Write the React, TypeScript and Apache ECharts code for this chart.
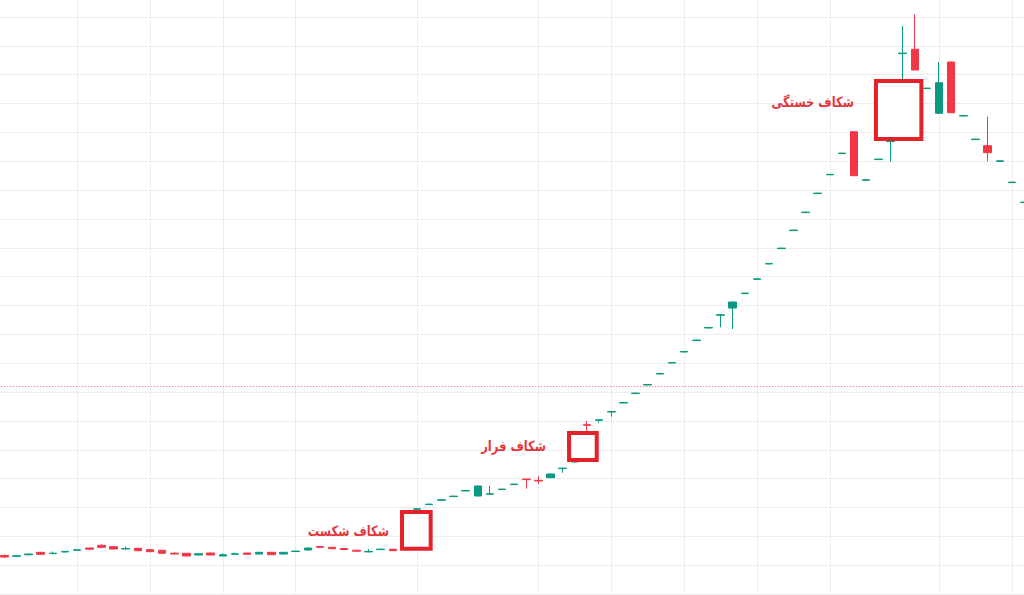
import React, { useEffect, useRef } from "react";
import * as echarts from "echarts";

// ---- data ----
const categories: string[] = [
  "1","2","3","4","5","6","7","8","9","10","11","12","13","14","15","16","17","18","19","20",
  "21","22","23","24","25","26","27","28","29","30","31","32","33","34","35","36","37","38","39","40",
  "41","42","43","44","45","46","47","48","49","50","51","52","53","54","55","56","57","58","59","60",
  "61","62","63","64","65","66","67","68","69","70","71","72","73","74","75","76","77","78","79","80",
  "81","82","83","84","85",
];

const openValues: number[] = [
  13.35, 13.07, 13.59, 14.45, 14.0, 14.56, 15.15, 15.94, 16.88, 16.4,
  15.6, 15.84, 15.36, 15.15, 14.14, 14.11, 13.52, 14.21, 13.17, 13.76,
  14.21, 13.86, 14.45, 13.86, 14.73, 15.25, 16.43, 16.19, 15.77, 15.18,
  14.59, 15.39, 15.49, 15.77, 29.36, 30.99, 32.48, 33.76, 35.7, 33.97,
  34.59, 36.19, 37.92, 39.86, 39.38, 40.31, 43.47, 45.75, 58.68, 60.21,
  63.09, 66.2, 69.46, 72.44, 76.26, 80.07, 83.88, 87.83, 92.2, 96.6,
  99.13, 104.12, 109.08, 114.38, 119.72, 125.96, 132.2, 138.79, 145.3, 152.65,
  160.24, 143.4, 150.57, 156.81, 187.31, 188.8, 175.18, 166.62, 184.4, 165.68,
  157.5, 155.39, 149.98, 142.6, 135.67,
];

const closeValues: number[] = [
  12.82, 13.24, 13.86, 13.76, 14.14, 14.77, 15.32, 15.53, 16.19, 15.6,
  15.77, 15.01, 14.66, 14.11, 13.86, 13.17, 13.97, 13.52, 13.62, 13.93,
  13.76, 14.45, 13.62, 14.45, 14.87, 15.94, 16.19, 15.7, 15.42, 14.84,
  14.73, 15.56, 15.01, 15.6, 29.53, 31.16, 32.65, 33.93, 35.88, 37.44,
  34.73, 36.36, 38.09, 39.65, 39.17, 41.59, 43.64, 45.93, 58.47, 60.38,
  63.26, 66.38, 69.64, 72.62, 76.43, 80.24, 84.06, 88.01, 92.37, 96.78,
  101.21, 104.3, 109.25, 114.56, 119.89, 126.13, 132.37, 138.96, 145.47, 152.82,
  144.99, 143.57, 150.74, 156.95, 187.49, 181.63, 175.35, 177.23, 166.83, 165.86,
  157.68, 152.96, 150.15, 142.77, 135.84,
];

const lowValues: number[] = [
  12.48, 12.89, 13.45, 13.66, 13.93, 14.45, 15.08, 15.42, 16.08, 15.5,
  15.53, 14.9, 14.56, 14.0, 13.76, 13.07, 13.38, 13.41, 13.07, 13.69,
  13.66, 13.76, 13.52, 13.76, 14.66, 15.15, 16.08, 15.6, 15.32, 14.73,
  14.49, 15.32, 14.9, 15.42, 29.26, 30.92, 32.41, 33.69, 35.63, 33.86,
  34.52, 36.12, 37.85, 36.5, 38.13, 40.21, 42.05, 45.58, 56.6, 59.38,
  61.46, 66.13, 69.39, 72.37, 76.19, 80.0, 83.81, 87.77, 92.13, 92.44,
  91.85, 104.05, 109.01, 114.31, 119.65, 125.89, 132.13, 138.72, 145.23, 152.58,
  144.89, 143.33, 150.5, 149.84, 177.82, 181.53, 175.11, 166.51, 166.73, 165.61,
  157.43, 149.98, 149.91, 142.53, 135.6,
];

const highValues: number[] = [
  13.69, 13.59, 14.04, 14.56, 14.73, 14.9, 15.42, 16.08, 17.23, 16.5,
  16.53, 15.94, 15.46, 15.25, 14.42, 14.21, 14.21, 14.32, 14.11, 14.35,
  14.32, 14.56, 14.56, 14.56, 14.97, 16.08, 16.53, 16.29, 15.88, 15.29,
  15.6, 15.67, 15.6, 15.94, 29.64, 31.26, 32.75, 34.04, 35.98, 37.54,
  37.54, 36.47, 38.2, 39.93, 40.9, 41.7, 43.74, 46.1, 59.97, 60.49,
  63.36, 66.48, 69.74, 72.72, 76.53, 80.35, 84.16, 88.11, 92.48, 96.88,
  101.32, 104.4, 109.36, 114.66, 120.0, 126.24, 132.47, 139.06, 145.58, 152.93,
  160.35, 143.68, 150.85, 157.02, 196.88, 200.93, 175.46, 184.4, 184.51, 165.96,
  157.78, 165.44, 150.26, 142.87, 135.95,
];

// candles on which the vertical time grid lines fall
const timeGridIndices: number[] = [6, 12, 18, 24, 34, 44, 50, 56, 62, 68, 77, 83];
const lastPriceLevel = 72.1;

// gaps: start / end (in candle units), low / high price
const gapStart: number[] = [32.76, 46.52, 71.8];
const gapEnd: number[] = [35.12, 48.8, 75.54];
const gapLow: number[] = [15.71, 46.47, 157.7];
const gapHigh: number[] = [28.44, 55.83, 177.8];
const gapLabels: string[] = ["شکاف شکست", "شکاف فرار", "شکاف خستگی"];

// label layout (px)
const labelGap = [11, 21, 20];
const labelDy = [1, -0.5, -8];

const UP = "#089981";
const DOWN = "#f23645";
const GRID = "#ededed";

// the canvas is larger than the window and shifted, so the plot can bleed past the edges
const OFF_X = 20;
const OFF_Y = 40;

export default function App() {
  const ref = useRef<HTMLDivElement>(null);

  useEffect(() => {
    if (!ref.current) return;
    const chart = echarts.init(ref.current, undefined, { renderer: "svg" });

    const candleData = categories.map((_, i) => [
      openValues[i],
      closeValues[i],
      lowValues[i],
      highValues[i],
    ]);
    const gapData = gapStart.map((s, i) => [s, gapEnd[i], gapLow[i], gapHigh[i]]);

    chart.setOption({
      animation: false,
      backgroundColor: "#ffffff",
      grid: { left: OFF_X - 1.77, top: OFF_Y - 11.85, width: 1031.9, height: 605.85 },
      xAxis: {
        type: "category",
        data: categories,
        boundaryGap: true,
        axisLine: { show: false },
        axisTick: { show: false },
        axisLabel: { show: false },
        splitLine: { show: false },
      },
      yAxis: {
        type: "value",
        min: 0,
        max: 210,
        interval: 10,
        axisLine: { show: false },
        axisTick: { show: false },
        axisLabel: { show: false },
        splitLine: { show: true, lineStyle: { color: GRID, width: 1 } },
      },
      series: [
        {
          type: "line",
          data: [],
          z: 1,
          silent: true,
          markLine: {
            silent: true,
            z: 1,
            symbol: ["none", "none"],
            label: { show: false },
            animation: false,
            lineStyle: { color: GRID, width: 1, type: "solid" },
            data: [
              ...timeGridIndices.map((i) => ({ xAxis: i })),
              {
                yAxis: lastPriceLevel,
                lineStyle: { color: DOWN, width: 1, type: [1, 2], opacity: 0.8 },
              },
            ],
          },
        },
        {
          type: "candlestick",
          data: candleData,
          barWidth: 8,
          z: 3,
          itemStyle: {
            color: UP,
            color0: DOWN,
            borderColor: UP,
            borderColor0: DOWN,
            borderWidth: 1,
          },
        },
        {
          type: "custom",
          data: gapData,
          z: 5,
          silent: true,
          encode: { x: [0, 1], y: [2, 3] },
          renderItem: (params: any, api: any) => {
            const s = api.value(0);
            const e = api.value(1);
            const lo = api.value(2);
            const hi = api.value(3);
            const band = api.size([1, 0])[0];
            const xAt = (f: number) => {
              const b = Math.floor(f);
              return api.coord([b, 0])[0] + (f - b) * band;
            };
            const left = xAt(s);
            const right = xAt(e);
            const top = api.coord([0, hi])[1];
            const bottom = api.coord([0, lo])[1];
            const k = params.dataIndex;
            return {
              type: "group",
              children: [
                {
                  type: "rect",
                  shape: { x: left, y: top, width: right - left, height: bottom - top },
                  style: { fill: "#ffffff", stroke: "#e52229", lineWidth: 4 },
                },
                {
                  type: "text",
                  x: left - 2 - labelGap[k],
                  y: (top + bottom) / 2 + labelDy[k],
                  scaleX: 0.82,
                  style: {
                    text: gapLabels[k],
                    x: 0,
                    y: 0,
                    align: "right",
                    verticalAlign: "middle",
                    fill: "#e4363c",
                    font: 'bold 14px "DejaVu Sans"',
                  },
                },
              ],
            };
          },
        },
      ],
    });

    return () => chart.dispose();
  }, []);

  return (
    <div
      ref={ref}
      style={{
        position: "fixed",
        left: -OFF_X,
        top: -OFF_Y,
        width: 1024 + 2 * OFF_X,
        height: 595 + 2 * OFF_Y,
        background: "#fff",
      }}
    />
  );
}
